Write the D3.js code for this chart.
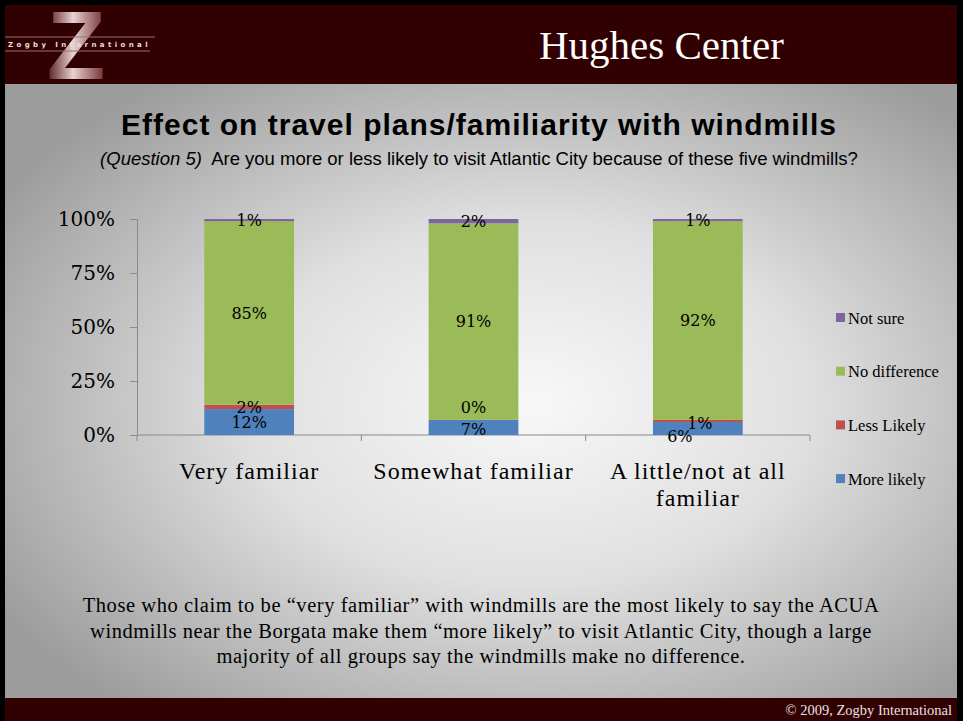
<!DOCTYPE html>
<html lang="en">
<head>
    <meta charset="UTF-8">
    <title>Effect on travel plans/familiarity with windmills</title>
    <script src="https://d3js.org/d3.v7.min.js"></script>
    <style>
        body { margin: 0; background: #000; }
        svg { display: block; }
        .serif { font-family: "Liberation Serif", "Times New Roman", serif; }
        .tick text { font-family: "DejaVu Serif", serif; }
    </style>
</head>
<body>
<svg id="chart" width="963" height="721"></svg>
<script>
    // data
    var categories = ["Very familiar", "Somewhat familiar", "A little/not at all familiar"];
    var seriesNames = ["More likely", "Less Likely", "No difference", "Not sure"];
    var moreLikely = [12, 7, 6];
    var lessLikely = [2, 0, 1];
    var noDifference = [85, 91, 92];
    var notSure = [1, 2, 1];
    var yTicks = [0, 25, 50, 75, 100];
    var colors = ["#4F81BD", "#C0504D", "#9BBB59", "#8064A2"];
    // small label shifts where Excel moved overlapping labels [series][category] -> [dx, dy]
    var labelNudge = [
        [[0, 0], [0, 2], [-18, 8]],
        [[0, 0], [0, -12], [2, 2]],
        [[0, 0], [0, 0], [0, 0]],
        [[0, 0], [0, 0], [0, 0]]
    ];

    var svg = d3.select("#chart");
    var defs = svg.append("defs");

    var bg = defs.append("radialGradient").attr("id", "bg")
        .attr("cx", "55%").attr("cy", "52%").attr("r", "65%");
    bg.append("stop").attr("offset", "0%").attr("stop-color", "#f8f8f8");
    bg.append("stop").attr("offset", "45%").attr("stop-color", "#e0e0e0");
    bg.append("stop").attr("offset", "100%").attr("stop-color", "#9c9c9c");

    var zgrad = defs.append("linearGradient").attr("id", "zg")
        .attr("x1", "0%").attr("x2", "100%").attr("y1", "0%").attr("y2", "0%");
    zgrad.append("stop").attr("offset", "0%").attr("stop-color", "#5a1a1a");
    zgrad.append("stop").attr("offset", "45%").attr("stop-color", "#fbeaea");
    zgrad.append("stop").attr("offset", "100%").attr("stop-color", "#7a3030");

    // slide frame
    svg.append("rect").attr("width", 963).attr("height", 721).attr("fill", "#000");
    svg.append("rect").attr("x", 5).attr("y", 84).attr("width", 952).attr("height", 614).attr("fill", "url(#bg)");
    svg.append("rect").attr("x", 5).attr("y", 5).attr("width", 952).attr("height", 79).attr("fill", "#310000");
    svg.append("rect").attr("x", 5).attr("y", 698).attr("width", 952).attr("height", 23).attr("fill", "#310000");

    // logo
    svg.append("text").attr("x", 76).attr("y", 79)
        .attr("text-anchor", "middle")
        .style("font-family", "Liberation Sans, Arial, sans-serif")
        .style("font-weight", "bold").style("font-size", "96px")
        .attr("fill", "url(#zg)").attr("opacity", 0.9)
        .text("Z");
    svg.append("line").attr("x1", 5).attr("x2", 155).attr("y1", 37).attr("y2", 37)
        .attr("stroke", "#a07070").attr("stroke-width", 1);
    svg.append("line").attr("x1", 5).attr("x2", 150).attr("y1", 51).attr("y2", 51)
        .attr("stroke", "#a07070").attr("stroke-width", 1);
    svg.append("text").attr("x", 8).attr("y", 47)
        .style("font-family", "DejaVu Sans, sans-serif").style("font-size", "7px")
        .style("font-weight", "bold").style("letter-spacing", "3.4px")
        .attr("fill", "#f0dede").text("Zogby International");

    svg.append("text").attr("class", "serif").attr("x", 539).attr("y", 59)
        .style("font-size", "41px").attr("fill", "#fff").text("Hughes Center");

    svg.append("text").attr("class", "serif").attr("x", 952).attr("y", 715)
        .attr("text-anchor", "end").style("font-size", "14.5px").attr("fill", "#e8e0e0")
        .text("\u00a9 2009, Zogby International");

    // titles
    svg.append("text").attr("x", 479).attr("y", 135).attr("text-anchor", "middle")
        .style("font-family", "Liberation Sans, Arial, sans-serif")
        .style("font-weight", "bold").style("font-size", "30px").style("letter-spacing", "1px")
        .attr("fill", "#000")
        .text("Effect on travel plans/familiarity with windmills");
    var sub = svg.append("text").attr("x", 479).attr("y", 165).attr("text-anchor", "middle")
        .style("font-family", "Liberation Sans, Arial, sans-serif")
        .style("font-size", "18.5px").attr("fill", "#000");
    sub.append("tspan").style("font-style", "italic").text("(Question 5)");
    sub.append("tspan").text("\u00a0 Are you more or less likely to visit Atlantic City because of these five windmills?");

    // scales
    var x = d3.scaleBand().domain(categories).range([137, 810]).padding(0);
    var y = d3.scaleLinear().domain([0, 100]).range([435, 219]);

    var table = categories.map(function (c, i) {
        return { cat: c, "More likely": moreLikely[i], "Less Likely": lessLikely[i],
                 "No difference": noDifference[i], "Not sure": notSure[i] };
    });
    var stacked = d3.stack().keys(seriesNames)(table);

    var barW = x.bandwidth() * 0.4;

    // axes
    var yAxis = svg.append("g").attr("transform", "translate(137,0)")
        .call(d3.axisLeft(y).tickValues(yTicks).tickSize(7).tickPadding(15)
            .tickFormat(function (d) { return d + "%"; }));
    yAxis.select(".domain").attr("stroke", "#8a8a8a");
    yAxis.selectAll(".tick line").attr("stroke", "#8a8a8a");
    yAxis.selectAll(".tick text").style("font-size", "20px").attr("fill", "#000");

    var xAxis = svg.append("g").attr("transform", "translate(0,435)");
    xAxis.append("line").attr("x1", 137).attr("x2", 810).attr("stroke", "#8a8a8a");
    xAxis.selectAll(".xt").data(d3.range(categories.length + 1)).enter().append("line")
        .attr("x1", function (i) { return 137 + i * x.step(); })
        .attr("x2", function (i) { return 137 + i * x.step(); })
        .attr("y1", 0).attr("y2", 6).attr("stroke", "#8a8a8a");

    // bars
    var layer = svg.selectAll(".layer").data(stacked).enter().append("g")
        .attr("fill", function (d, i) { return colors[i]; });
    layer.selectAll("rect").data(function (d) { return d; }).enter().append("rect")
        .attr("x", function (d) { return x(d.data.cat) + (x.bandwidth() - barW) / 2; })
        .attr("width", barW)
        .attr("y", function (d) { return y(d[1]); })
        .attr("height", function (d) { return y(d[0]) - y(d[1]); });

    // data labels
    stacked.forEach(function (s, si) {
        s.forEach(function (d, ci) {
            var nudge = labelNudge[si][ci];
            svg.append("text")
                .attr("x", x(d.data.cat) + x.bandwidth() / 2 + nudge[0])
                .attr("y", y((d[0] + d[1]) / 2) + nudge[1])
                .attr("dy", "0.35em").attr("text-anchor", "middle")
                .style("font-family", "DejaVu Serif, serif").style("font-size", "16px")
                .attr("fill", "#000")
                .text((d[1] - d[0]) + "%");
        });
    });

    // category labels
    var catText = svg.selectAll(".cat").data(categories).enter().append("text")
        .attr("class", "serif").attr("text-anchor", "middle")
        .style("font-size", "24px").style("letter-spacing", "1px").attr("fill", "#000")
        .attr("transform", function (d) { return "translate(" + (x(d) + x.bandwidth() / 2) + ",479)"; });
    catText.each(function (d) {
        var lines = d === "A little/not at all familiar" ? ["A little/not at all", "familiar"] : [d];
        var t = d3.select(this);
        lines.forEach(function (l, i) {
            t.append("tspan").attr("x", 0).attr("y", i * 27).text(l);
        });
    });

    // legend (reverse order, Not sure on top)
    var legend = svg.selectAll(".leg").data(seriesNames.slice().reverse()).enter().append("g")
        .attr("transform", function (d, i) { return "translate(836," + (318 + i * 53.7) + ")"; });
    legend.append("rect").attr("x", 0).attr("y", -5).attr("width", 9).attr("height", 9)
        .attr("fill", function (d) { return colors[seriesNames.indexOf(d)]; });
    legend.append("text").attr("class", "serif").attr("x", 12).attr("dy", "0.35em")
        .style("font-size", "16.5px").attr("fill", "#000").text(function (d) { return d; });

    // note
    var note = [
        "Those who claim to be \u201cvery familiar\u201d with windmills are the most likely to say the ACUA",
        "windmills near the Borgata make them \u201cmore likely\u201d to visit Atlantic City, though a large",
        "majority of all groups say the windmills make no difference."
    ];
    svg.selectAll(".note").data(note).enter().append("text")
        .attr("class", "serif").attr("text-anchor", "middle")
        .attr("x", 481).attr("y", function (d, i) { return 612 + i * 25.5; })
        .style("font-size", "20.5px").style("letter-spacing", "0.55px").attr("fill", "#000")
        .text(function (d) { return d; });
</script>
</body>
</html>
